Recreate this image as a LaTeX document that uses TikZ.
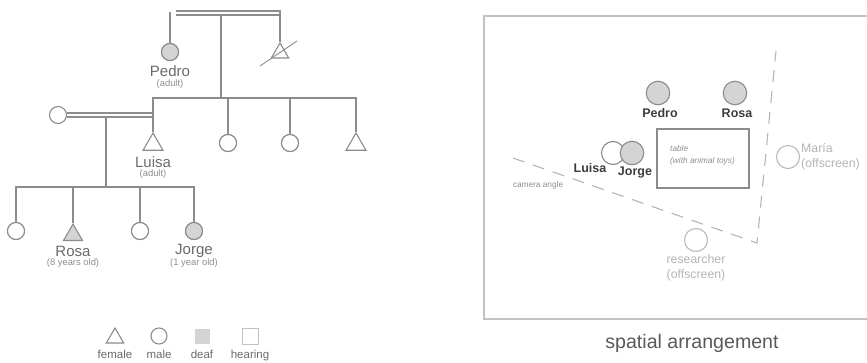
\documentclass[tikz,border=0pt]{standalone}
\usepackage{fontspec}
\setmainfont{Liberation Sans}
\usetikzlibrary{shapes.geometric,calc}
\definecolor{ln}{HTML}{8C8C8C}
\definecolor{df}{HTML}{D4D4D4}
\definecolor{nm}{HTML}{6A6A6A}
\definecolor{sb}{HTML}{8E8E8E}
\definecolor{bn}{HTML}{3C3C3C}
\definecolor{lt}{HTML}{B4B4B4}
\definecolor{bx}{HTML}{C2C2C2}
\tikzset{
  person/.style={draw=ln, line width=1.1pt, inner sep=0pt, fill=white},
  mcirc/.style={person, circle, minimum size=17pt},
  ftri/.style={person, regular polygon, regular polygon sides=3, minimum size=23pt},
  deaf/.style={fill=df},
  rel/.style={draw=ln, line width=1.1pt},
  tname/.style={text=nm, font=\fontsize{15}{15}\selectfont, inner sep=0pt},
  tsub/.style={text=sb, font=\fontsize{9.4}{9.4}\selectfont, inner sep=0pt},
  legtxt/.style={text=nm, font=\fontsize{11.5}{11.5}\selectfont, inner sep=0pt, anchor=base},
  rcirc/.style={circle, draw=ln, line width=1.1pt, minimum size=23.5pt, inner sep=0pt},
  rname/.style={text=bn, font=\bfseries\fontsize{12.5}{12.5}\selectfont, inner sep=0pt},
  ghost/.style={circle, draw=lt, line width=1pt, minimum size=23pt, inner sep=0pt},
  ghosttxt/.style={text=lt, font=\fontsize{12.3}{14.5}\selectfont, inner sep=0pt},
  camline/.style={draw=lt, line width=1.1pt, dash pattern=on 12pt off 9pt},
}
\begin{document}
\begin{tikzpicture}[x=1pt,y=-1pt]
\useasboundingbox (0,0) rectangle (867,362);
% ---------------- family tree ----------------
\node[mcirc, deaf] (pedro) at (170,52) {};
\node[ftri, minimum size=20pt] (gf) at (280,53) {};
\node[mcirc] (lsp) at (58,115) {};
\node[ftri] (luisa) at (153,144.5) {};
\node[mcirc] (s1) at (228,143) {};
\node[mcirc] (s2) at (290,143) {};
\node[ftri] (s3) at (356,144.5) {};
\node[mcirc] (c1) at (16,231) {};
\node[ftri, deaf, minimum size=22pt] (rosa) at (73,235) {};
\node[mcirc] (c3) at (140,231) {};
\node[mcirc, deaf] (jorge) at (194,231) {};

\coordinate (ptop) at (170,12);
\coordinate (dl1) at (176,11);
\coordinate (dr1) at (280,11);
\coordinate (dl2) at (176,15);
\coordinate (dr2) at (280,15);
\coordinate (cdrop) at (221,15);
\coordinate (sib1) at (221,98);
\coordinate (m1) at (153,113);
\coordinate (m2) at (153,117);
\coordinate (ddrop) at (106,117);
\coordinate (sib2) at (106,187);

\draw[rel] (ptop) -- (pedro);
\draw[rel] (dl1) -- (dr1) -- (gf.north);
\draw[rel] (dl2) -- (dr2);
\draw[rel] (cdrop) -- (sib1);
\draw[rel] (luisa.north) -- (luisa.north |- sib1) -- (s3.north |- sib1) -- (s3.north);
\draw[rel] (s1) -- (s1 |- sib1);
\draw[rel] (s2) -- (s2 |- sib1);
\draw[rel] (lsp.east |- m1) -- (m1);
\draw[rel] (lsp.east |- m2) -- (m2);
\draw[rel] (ddrop) -- (sib2);
\draw[rel] (c1) -- (c1 |- sib2) -- (jorge |- sib2) -- (jorge);
\draw[rel] (rosa.north) -- (rosa.north |- sib2);
\draw[rel] (c3) -- (c3 |- sib2);
% redraw nodes over connectors
\node[mcirc, deaf] at (pedro) {};
\node[mcirc] at (s1) {};
\node[mcirc] at (s2) {};
\node[mcirc] at (c1) {};
\node[mcirc] at (c3) {};
\node[mcirc, deaf] at (jorge) {};
% crossed out (deceased)
\draw[draw=ln, line width=0.9pt] ($(gf.center)+(-20,13)$) -- ($(gf.center)+(17,-12)$);

\node[tname] (pedron) at (170,71) {Pedro};
\node[tsub] (pedros) at (170,84) {(adult)};
\node[tname] (luisan) at (153,162) {Luisa};
\node[tsub] (luisas) at (153,174) {(adult)};
\node[tname] (rosan) at (73,251) {Rosa};
\node[tsub] (rosas) at (73,263) {(8 years old)};
\node[tname] (jorgen) at (194,251) {Jorge};
\node[tsub] (jorges) at (194,263) {(1 year old)};

% legend
\node[person, regular polygon, regular polygon sides=3, minimum size=20pt] (lgf) at (115,338) {};
\node[person, circle, minimum size=16pt] (lgm) at (159,336) {};
\node[fill=df, minimum size=15pt, inner sep=0pt] (lgd) at (202,336) {};
\node[draw=bx, line width=1pt, minimum size=16pt, inner sep=0pt] (lgh) at (250,336) {};
\node[legtxt] (lgft) at (115,358) {female};
\node[legtxt] (lgmt) at (159,358) {male};
\node[legtxt] (lgdt) at (202,358) {deaf};
\node[legtxt] (lght) at (250,358) {hearing};

% ---------------- spatial arrangement ----------------
\coordinate (b1) at (867,16);
\coordinate (b2) at (484,16);
\coordinate (b3) at (484,319);
\coordinate (b4) at (867,319);
\draw[draw=bx, line width=1.1pt] (b1) -- (b2) -- (b3) -- (b4);

\coordinate (cl) at (513,158);
\coordinate (cv) at (757,243);
\coordinate (ct) at (776,51);
\draw[camline] (cl) -- (cv) -- (ct);

\node[rcirc, fill=df] (rpedro) at (658,93) {};
\node[rcirc, fill=df] (rrosa) at (735,93) {};
\node[rname] at (660,113) {Pedro};
\node[rname] at (737,113) {Rosa};

\node[draw=ln, line width=1.1pt, minimum width=92pt, minimum height=59pt, inner sep=0pt] (table) at (703,158.5) {};
\node[anchor=west, align=left, text=sb, font=\itshape\fontsize{8.3}{12}\selectfont, inner sep=0pt] (tabtxt) at (670,155) {table\\(with animal toys)};

\node[rcirc, fill=white, minimum size=23pt] (rluisa) at (613,153) {};
\node[rcirc, fill=df] (rjorge) at (632,153) {};
\node[rname] at (590,168) {Luisa};
\node[rname] at (635,173) {Jorge};

\node[text=sb, font=\fontsize{8.3}{8.3}\selectfont, inner sep=0pt] (cam) at (538,185) {camera angle};

\node[ghost, fill=white] (maria) at (788,157) {};
\node[ghosttxt, anchor=west, align=left] (mariat) at (801,156.5) {María\\(offscreen)};

\node[ghost, fill=white] (res) at (696,240) {};
\node[ghosttxt, align=center] (rest) at (696,268) {researcher\\(offscreen)};

\node[text=bn!85, font=\fontsize{19.6}{19.6}\selectfont, inner sep=0pt] (title) at (692,343) {spatial arrangement};
\end{tikzpicture}
\end{document}
